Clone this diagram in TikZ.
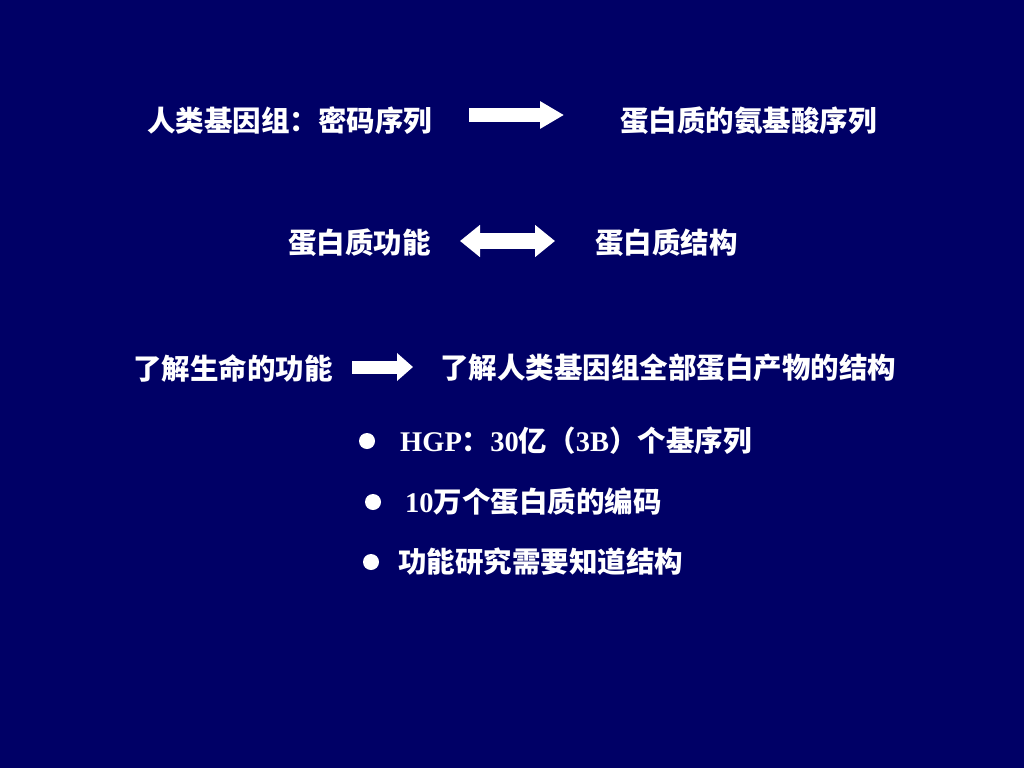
\documentclass[tikz,border=0pt]{standalone}
\usepackage{fontspec}
\setmainfont{Liberation Serif}
\newfontfamily\cjk{Noto Sans CJK SC}
\usetikzlibrary{arrows.meta}
\definecolor{navy}{RGB}{0,0,102}
\tikzset{
  txt/.style={anchor=west,inner sep=0pt,text=white,font=\fontsize{28.5}{34}\selectfont\bfseries\cjk},
  dot/.style={circle,fill=white,inner sep=0pt,minimum size=16pt},
  blk/.style={draw=white,line cap=butt}
}
\begin{document}
\begin{tikzpicture}[x=1pt,y=-1pt]
      \fill[navy] (0,0) rectangle (1024,768);
      \useasboundingbox (0,0) rectangle (1024,768);
      \draw
        (147,121) node[txt] (genome){人类基因组：密码序列}
        (620,121) node[txt] (aaseq){蛋白质的氨基酸序列}
        (288,243) node[txt] (func){蛋白质功能}
        (595,243) node[txt] (struct){蛋白质结构}
        (133,368) node[txt] (life){了解生命的功能}
        (440,368) node[txt] (allstruct){了解人类基因组全部蛋白产物的结构}
        (367,441) node[dot] (b1){}
        (373,502) node[dot] (b2){}
        (371,562) node[dot] (b3){}
        (400,441) node[txt,font=\fontsize{28.5}{34}\selectfont\bfseries] (hgp){HGP{\cjk ：}30{\cjk 亿（}3B{\cjk ）个基序列}}
        (405,502) node[txt,font=\fontsize{28.5}{34}\selectfont\bfseries] (code){10{\cjk 万个蛋白质的编码}}
        (398,562) node[txt] (need){功能研究需要知道结构};
      \coordinate (a1s) at (469,115);
      \coordinate (a1e) at (564,115);
      \coordinate (a2s) at (460,241);
      \coordinate (a2e) at (555,241);
      \coordinate (a3s) at (352,367);
      \coordinate (a3e) at (413,367);
      \begin{scope}[blk]
        \draw[line width=14pt,-{Triangle[width=26pt,length=24pt]},white] (a1s) to (a1e);
        \draw[line width=16pt,{Triangle[width=31pt,length=20pt]}-{Triangle[width=31pt,length=20pt]},white] (a2s) to (a2e);
        \draw[line width=13pt,-{Triangle[width=27pt,length=16pt]},white] (a3s) to (a3e);
      \end{scope}
    \end{tikzpicture}
\end{document}
